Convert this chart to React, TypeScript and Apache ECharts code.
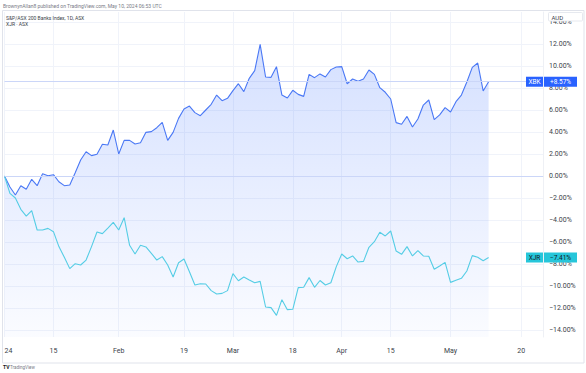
import React, { useEffect, useRef } from "react";
import * as echarts from "echarts";

// ASX trading days (2024) shown on the time axis, including future bars
const janDays = [2, 3, 4, 5, 8, 9, 10, 11, 12, 15, 16, 17, 18, 19, 22, 23, 24, 25, 29, 30, 31];
const febDays = [1, 2, 5, 6, 7, 8, 9, 12, 13, 14, 15, 16, 19, 20, 21, 22, 23, 26, 27, 28, 29];
const marDays = [1, 4, 5, 6, 7, 8, 11, 12, 13, 14, 15, 18, 19, 20, 21, 22, 25, 26, 27, 28];
const aprDays = [2, 3, 4, 5, 8, 9, 10, 11, 12, 15, 16, 17, 18, 19, 22, 23, 24, 26, 29, 30];
const mayDays = [1, 2, 3, 6, 7, 8, 9, 10, 13, 14, 15, 16, 17, 20, 21, 22, 23, 24];

// time-axis tick labels
const tickDates = ["2024-01-02", "2024-01-15", "2024-02-01", "2024-02-19", "2024-03-01", "2024-03-18", "2024-04-02", "2024-04-15", "2024-05-01", "2024-05-20"];
const tickLabels = ["24", "15", "Feb", "19", "Mar", "18", "Apr", "15", "May", "20"];

// price-axis tick values (%)
const yTicks = [-14, -12, -10, -8, -6, -4, -2, 0, 2, 4, 6, 8, 10, 12, 14];

// S&P/ASX 200 Banks Index (XBK), % change
const xbk = [
  0, -1.0, -1.73, -0.88, -1.21, -0.3, -0.88, 0.21, 0.03, 0.12,
  -0.52, -0.88, -0.82, 0.3, 1.45, 2.21, 1.85, 1.97, 2.88, 2.82,
  4.18, 2.0, 3.24, 3.24, 2.91, 3.03, 3.97, 4.03, 4.39, 4.87,
  3.24, 3.97, 5.24, 6.09, 6.36, 5.76, 5.48, 6.0, 6.52, 7.36,
  6.85, 7.06, 7.76, 8.39, 7.67, 8.88, 9.58, 11.97, 9.0, 8.97,
  9.94, 7.36, 7.09, 7.79, 7.42, 7.24, 9.24, 8.94, 9.28, 9.0,
  9.67, 9.91, 9.94, 8.39, 8.82, 8.61, 8.82, 9.64, 9.24, 8.03,
  7.61, 7.0, 4.85, 4.7, 5.42, 4.45, 5.18, 6.45, 6.91, 5.12,
  5.55, 6.21, 5.82, 6.76, 7.36, 8.55, 9.88, 10.27, 7.73, 8.57,
];

// XJR (ASX), % change
const xjr = [
  0, -1.58, -2.0, -3.03, -3.64, -3.15, -4.91, -4.91, -4.76, -5.06,
  -6.42, -7.39, -8.42, -7.97, -8.09, -7.64, -6.42, -5.09, -5.24, -4.73,
  -4.21, -4.91, -3.79, -6.3, -7.09, -6.3, -6.45, -7.03, -7.64, -7.33,
  -8.09, -9.18, -7.88, -7.55, -8.7, -9.91, -9.79, -9.82, -10.42, -10.73,
  -10.67, -10.42, -8.88, -9.52, -9.18, -9.45, -9.7, -9.58, -11.91, -11.97,
  -12.67, -11.24, -12.15, -12.12, -10.15, -10.12, -9.24, -10.12, -9.5, -9.91,
  -9.7, -8.24, -7.09, -7.52, -7.27, -7.82, -7.76, -6.48, -5.97, -5.12,
  -5.45, -5.0, -6.82, -7.12, -6.42, -7.27, -6.79, -7.27, -7.3, -8.48,
  -8.18, -7.85, -9.67, -9.48, -9.3, -8.64, -7.24, -7.39, -7.7, -7.41,
];

const pad = (n: number) => (n < 10 ? "0" + n : "" + n);
const dates: string[] = [];
[janDays, febDays, marDays, aprDays, mayDays].forEach((days, m) => {
  days.forEach((d) => dates.push(`2024-${pad(m + 1)}-${pad(d)}`));
});
const labelMap: Record<string, string> = {};
tickDates.forEach((d, i) => (labelMap[d] = tickLabels[i]));

const FONT = "Roboto, 'Noto Sans', sans-serif";
const MINUS = "\u2212";
const fmtPct = (v: number, plus = false) =>
  (v < 0 ? MINUS : plus ? "+" : "") + Math.abs(v).toFixed(2) + "%";

const BLUE = "#2962ff";
const CYAN = "#26c6da";

export default function App() {
  const ref = useRef<HTMLDivElement>(null);
  useEffect(() => {
    const chart = echarts.init(ref.current!, null, { renderer: "svg", width: 586, height: 373 });
    const lastB = xbk[xbk.length - 1];
    const lastJ = xjr[xjr.length - 1];
    const isTick = (_i: number, v: string) => v in labelMap;
    chart.setOption({
      animation: false,
      grid: { left: 4.5, right: 43, top: 12, bottom: 36, containLabel: false },
      xAxis: {
        type: "category",
        data: dates,
        boundaryGap: false,
        axisLine: { show: true, lineStyle: { color: "#e0e3eb", width: 1 } },
        axisTick: { show: false },
        axisLabel: {
          interval: isTick,
          formatter: (v: string) => labelMap[v] || "",
          color: "#3b3f4a",
          fontSize: 7,
          fontFamily: FONT,
          margin: 10,
          alignMinLabel: "left",
        },
        splitLine: { show: true, interval: isTick, lineStyle: { color: "#f0f3fa", width: 1 } },
      },
      yAxis: {
        type: "value",
        position: "right",
        min: (176 - 337) / 11,
        max: (176 - 12) / 11,
        axisLine: { show: true, lineStyle: { color: "#eef0f5" } },
        axisTick: { show: false, customValues: yTicks },
        axisLabel: {
          customValues: yTicks,
          formatter: (v: number) => fmtPct(v),
          color: "#3b3f4a",
          fontSize: 7,
          fontFamily: FONT,
          margin: 6,
          align: "left",
        },
        splitLine: { show: true, lineStyle: { color: "#f0f3fa", width: 1 } },
      },
      series: [
        {
          name: "XBK",
          type: "line",
          data: xbk,
          symbol: "none",
          z: 2,
          lineStyle: { color: "#4a78f5", width: 1.1 },
          areaStyle: {
            origin: "start",
            color: new echarts.graphic.LinearGradient(0, 0, 0, 1, [
              { offset: 0, color: "rgba(41,98,255,0.28)" },
              { offset: 1, color: "rgba(41,98,255,0.03)" },
            ]),
          },
          markLine: {
            silent: true,
            symbol: "none",
            label: { show: false },
            emphasis: { disabled: true },
            lineStyle: { color: "#cbd6f8", width: 1, type: "solid", opacity: 1 },
            data: [{ yAxis: 0 }, { yAxis: lastB }],
          },
        },
        {
          name: "XJR",
          type: "line",
          data: xjr,
          symbol: "none",
          z: 3,
          lineStyle: { color: "#55cde5", width: 1.1 },
        },
      ],
    });

    const yB = chart.convertToPixel({ yAxisIndex: 0 }, lastB) as number;
    const yJ = chart.convertToPixel({ yAxisIndex: 0 }, lastJ) as number;
    const priceTag = (y: number, name: string, val: string, bg: string, fg: string) => [
      { type: "rect", z: 100, shape: { x: 526, y: y - 5, width: 17, height: 10 }, style: { fill: bg } },
      { type: "rect", z: 100, shape: { x: 544, y: y - 5, width: 33, height: 10 }, style: { fill: bg } },
      { type: "text", z: 101, x: 534.5, y: y + 0.5, style: { text: name, fill: fg, fontSize: 6.5, fontFamily: FONT, align: "center", verticalAlign: "middle" } },
      { type: "text", z: 101, x: 560.5, y: y + 0.5, style: { text: val, fill: fg, fontSize: 6.5, fontFamily: FONT, align: "center", verticalAlign: "middle" } },
    ];

    chart.setOption({
      graphic: [
        { type: "rect", z: 50, silent: true, shape: { x: 2.5, y: 10.5, width: 581.5, height: 352.5 }, style: { fill: "none", stroke: "#e0e3eb", lineWidth: 1 } },
        { type: "text", z: 60, x: 3, y: 6, style: { text: "BrownynAllan8 published on TradingView.com, May 10, 2024 06:53 UTC", fill: "#787b86", fontSize: 5, fontFamily: FONT, verticalAlign: "middle" } },
        { type: "text", z: 60, x: 6, y: 17.5, style: { text: "S&P/ASX 200 Banks Index, 1D, ASX", fill: "#3b3f4a", fontSize: 5, fontFamily: FONT, verticalAlign: "middle" } },
        { type: "text", z: 60, x: 6, y: 23.5, style: { text: "XJR \u00b7 ASX", fill: "#3b3f4a", fontSize: 5, fontFamily: FONT, verticalAlign: "middle" } },
        { type: "rect", z: 100, shape: { x: 548.5, y: 12.5, width: 34, height: 8.5, r: 1 }, style: { fill: "#ffffff", stroke: "#e0e3eb", lineWidth: 0.8 } },
        { type: "text", z: 101, x: 551.5, y: 17, style: { text: "AUD", fill: "#3b3f4a", fontSize: 6, fontFamily: FONT, verticalAlign: "middle" } },
        ...priceTag(yB, "XBK", fmtPct(lastB, true), BLUE, "#ffffff"),
        ...priceTag(yJ, "XJR", fmtPct(lastJ), CYAN, "#131722"),
        { type: "text", z: 60, x: 3, y: 367, style: { text: "TV", fill: "#131722", fontSize: 5, fontWeight: "bold", fontFamily: FONT, verticalAlign: "middle" } },
        { type: "text", z: 60, x: 10, y: 367, style: { text: "TradingView", fill: "#787b86", fontSize: 4.5, fontFamily: FONT, verticalAlign: "middle" } },
      ],
    });
    return () => chart.dispose();
  }, []);
  return (
    <div
      ref={ref}
      style={{ position: "fixed", left: 0, top: 0, width: 586, height: 373, background: "#ffffff" }}
    />
  );
}
